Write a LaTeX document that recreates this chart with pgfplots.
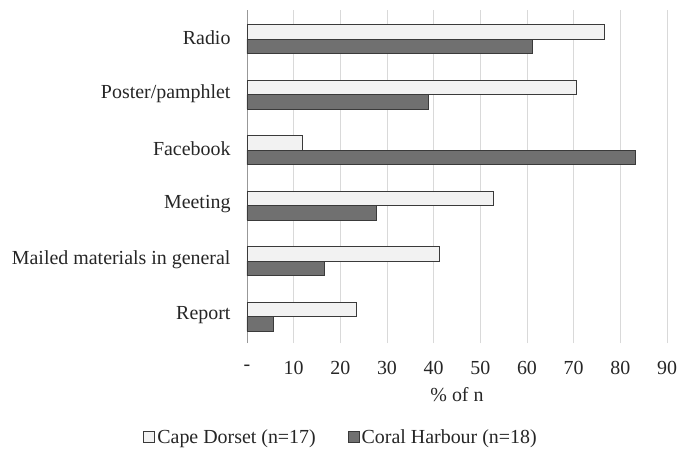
\documentclass[border=0pt]{standalone}
\usepackage{fontspec}
\setmainfont{Liberation Serif}
\usepackage{pgfplots}
\pgfplotsset{compat=1.18}
\definecolor{lightbar}{HTML}{F2F2F2}
\definecolor{darkbar}{HTML}{707070}
\definecolor{barline}{HTML}{3A3A3A}
\definecolor{gridc}{HTML}{D9D9D9}
\begin{document}
\begin{tikzpicture}
\begin{axis}[
  at={(0,0)}, anchor=south west,
  scale only axis,
  width=420bp, height=333bp,
  xbar,
  xmin=0, xmax=90,
  ymin=-0.5, ymax=5.5,
  xtick={0,10,...,90},
  xticklabels={-,10,20,30,40,50,60,70,80,90},
  ytick={0,...,5},
  yticklabels={Report,Mailed materials in general,Meeting,Facebook,Poster/pamphlet,Radio},
  major tick length=0pt,
  xmajorgrids,
  grid style={gridc, line width=0.8pt},
  axis y line*=left,
  axis x line*=bottom,
  x axis line style={draw=none},
  y axis line style={gridc!70!black, line width=0.8pt},
  /pgf/number format/assume math mode=true,
  tick label style={font=\fontsize{20}{22}\selectfont, text=black!85},
  xticklabel style={anchor=center, yshift=-25bp},
  yticklabel style={xshift=-13bp},
  xlabel={\% of n},
  xlabel style={font=\fontsize{20}{22}\selectfont, text=black!85,
    at={(axis description cs:0.5,-0.156)}, anchor=center},
  bar width=14.5bp,
  legend columns=2,
  legend style={draw=none, at={(0.224,-0.282)}, anchor=center,
    font=\fontsize{20}{22}\selectfont, text=black!85,
    /tikz/every even column/.append style={column sep=30bp}},
  legend image code/.code={\draw[#1, line width=0.9pt] (0bp,-5.5bp) rectangle (11bp,5.5bp);},
]
\addplot[draw=barline, fill=lightbar, line width=0.9pt, bar shift=6bp]
coordinates {
(23.5,0)
(41.2,1)
(52.9,2)
(11.8,3)
(70.6,4)
(76.5,5)
};
\addplot[draw=barline, fill=darkbar, line width=0.9pt, bar shift=-8.5bp]
coordinates {
(5.6,0)
(16.7,1)
(27.8,2)
(83.3,3)
(38.9,4)
(61.1,5)
};
\legend{Cape Dorset (n=17),Coral Harbour (n=18)}
\end{axis}
\pgfresetboundingbox
\path (-247bp,-112bp) rectangle (431bp,343bp);
\end{tikzpicture}
\end{document}
